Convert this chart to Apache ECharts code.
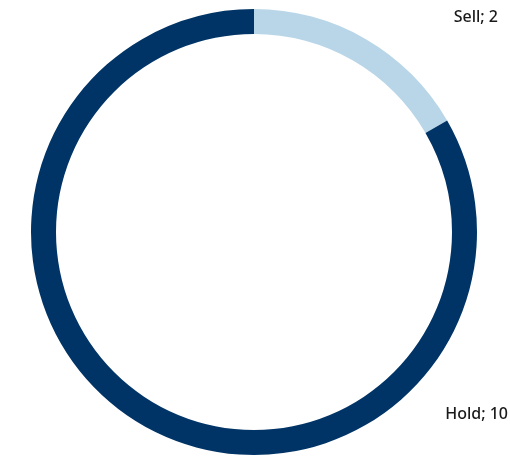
<!DOCTYPE html>
<html><head><meta charset="utf-8">
<script src="https://cdn.jsdelivr.net/npm/echarts@6/dist/echarts.min.js"></script>
<style>html,body{margin:0;padding:0;background:#fff}#c{width:510px;height:457px}</style>
</head><body><div id="c"></div>
<script>
const categories = ['Sell', 'Hold'];
const values = [2, 10];
const colors = ['#b9d6e8', '#003466'];

const chart = echarts.init(document.getElementById('c'));
chart.setOption({
  animation: false,
  series: [{
    type: 'pie',
    center: [254, 232],
    radius: [198, 223],
    startAngle: 90,
    clockwise: true,
    label: { show: false },
    labelLine: { show: false },
    data: categories.map((c, i) => ({ name: c, value: values[i], itemStyle: { color: colors[i] } }))
  }],
  graphic: [
    { type: 'text', right: 12, top: 9, style: { text: categories[0] + '; ' + values[0], font: '500 16px "Noto Sans", sans-serif', fill: '#1a1a1a' } },
    { type: 'text', right: 2, top: 406, style: { text: categories[1] + '; ' + values[1], font: '500 16px "Noto Sans", sans-serif', fill: '#1a1a1a' } }
  ]
});
</script></body></html>
